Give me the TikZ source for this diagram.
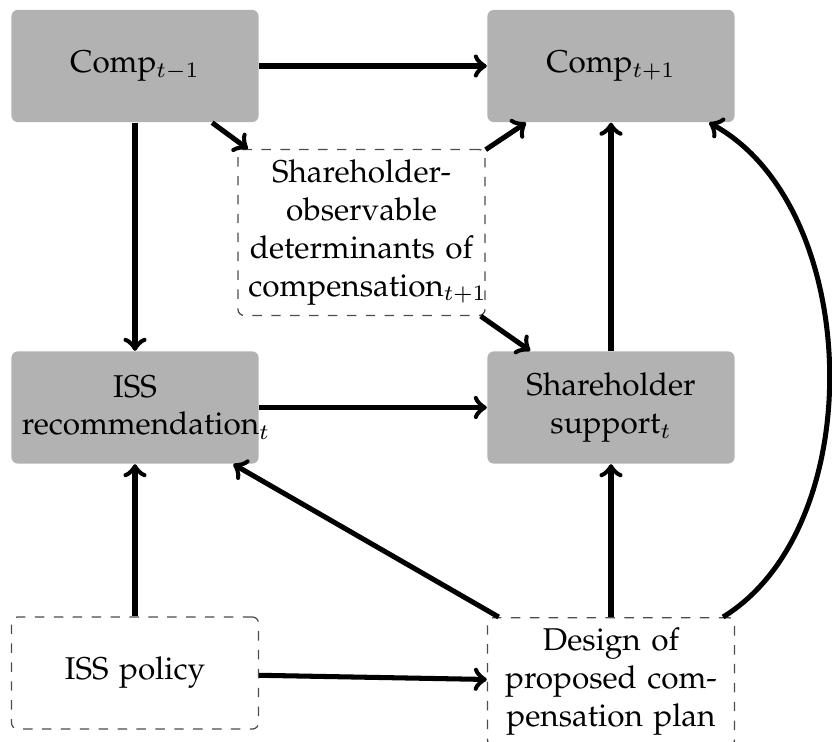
\documentclass[tikz,border=0pt]{standalone}
\usepackage[T1]{fontenc}
\renewcommand{\rmdefault}{ppl}
\begin{document}
\begin{tikzpicture}[x=0.3175pt,y=-0.3175pt,
  box/.style={rectangle, rounded corners=2pt, text width=71.8pt, align=center,
    minimum height=35.6pt, inner sep=3.33pt, font=\fontsize{10pt}{12pt}\selectfont},
  solidbox/.style={box, fill=black!30},
  dashbox/.style={box, draw=black!70, dashed, line width=0.4pt},
  arr/.style={->, line width=1.6pt}]
\useasboundingbox (0,0) rectangle (832,742);
\node[solidbox] (c1) at (135,66) {Comp$_{t-1}$};
\node[solidbox] (c2) at (611,66) {Comp$_{t+1}$};
\node[solidbox] (rec) at (135,407.5) {ISS\\recommendation$_t$};
\node[solidbox] (sup) at (611,407.5) {Shareholder\\support$_t$};
\node[dashbox] (det) at (361.5,232.5) {Shareholder-\\observable\\determinants of\\compensation$_{t+1}$};
\node[dashbox] (pol) at (135,673) {ISS policy};
\node[dashbox, anchor=north] (des) at (611,617) {Design of\\proposed com-\\pensation plan};
\draw[arr] (c1) -- (c2);
\draw[arr] (c1) -- (rec);
\draw[arr] (c1) -- (det);
\draw[arr] (det) -- (c2);
\draw[arr] (det) -- (sup);
\draw[arr] (sup) -- (c2);
\draw[arr] (rec) -- (sup);
\draw[arr] (pol) -- (rec);
\draw[arr] (pol) -- (des);
\draw[arr] (des) -- (rec);
\draw[arr] (des) -- (sup);
\draw[arr] (des) to[bend right=60, looseness=0.9] (c2);
\end{tikzpicture}
\end{document}
